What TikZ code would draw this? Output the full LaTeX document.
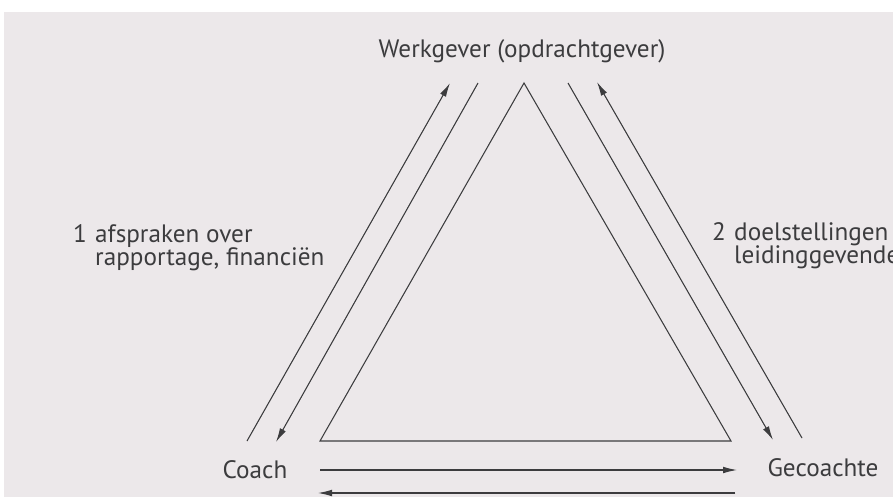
\documentclass[tikz,border=0pt]{standalone}
\usepackage{fontspec}
\setmainfont{PT Sans}
\usepackage{xcolor}
\usepackage{tikz}
\usetikzlibrary{positioning,arrows.meta,calc}
\definecolor{pagegray}{RGB}{236,232,234}
\definecolor{inkgray}{RGB}{60,60,62}
\tikzset{
  rolelabel/.style={text=inkgray, inner sep=0pt, font=\fontsize{21.5}{26}\selectfont},
  notelabel/.style={text=inkgray, inner sep=0pt, font=\fontsize{21.5}{26}\selectfont, align=left},
  edge/.style={line width=0.9pt, draw=inkgray},
  arr/.style={-{Latex[length=0.42cm,width=0.2cm]}, line width=0.9pt, draw=inkgray, fill=inkgray}
}

\begin{document}
\begin{tikzpicture}[x=0.03cm, y=-0.03cm]
  % Scanned page
  \fill[white] (0,0) rectangle (893,497);
  \fill[pagegray] (4,12) rectangle (893,497);
  \useasboundingbox (0,0) rectangle (893,497);
  \clip (0,0) rectangle (893,497);

  % Parties
  \node[rolelabel, anchor=base] (werkgever) at (522,57) {Werkgever (opdrachtgever)};
  \node[rolelabel, anchor=base] (coach) at (255,478) {Coach};
  \node[rolelabel, anchor=base] (gecoachte) at (823,476) {Gecoachte};

  % Contract notes
  \node[notelabel, anchor=base west] (num1) at (73,242) {1};
  \node[notelabel, anchor=base west] (note1) at (95,242) {afspraken over};
  \node[notelabel, anchor=base west] (note1b) at ($(note1.base west)+(0,23)$) {rapportage, financiën};
  \node[notelabel, anchor=base west] (num2) at (712,240) {2};
  \node[notelabel, anchor=base west] (note2) at (734,240) {doelstellingen};
  \node[notelabel, anchor=base west] (note2b) at ($(note2.base west)+(0,23)$) {leidinggevende};

  % Triangle
  \coordinate (apex) at (524,83);
  \coordinate (baseL) at (320,441);
  \coordinate (baseR) at (731,441);
  \draw[edge] (baseL) -- (apex) -- (baseR) -- cycle;

  % Arrow ends
  \coordinate (lo1) at (247,441);  \coordinate (lo2) at (450,83);
  \coordinate (li1) at (478,83);   \coordinate (li2) at (276,442);
  \coordinate (ri1) at (568,83);   \coordinate (ri2) at (773,440);
  \coordinate (ro1) at (802,438);  \coordinate (ro2) at (597,82);
  \coordinate (mid1) at (320,470); \coordinate (mid2) at (737,470);
  \coordinate (bot1) at (735,493); \coordinate (bot2) at (318,493);

  \foreach \a/\b in {lo1/lo2,li1/li2,ri1/ri2,ro1/ro2,mid1/mid2,bot1/bot2}{
    \draw[arr] (\a) -- (\b);
  }
\end{tikzpicture}
\end{document}
